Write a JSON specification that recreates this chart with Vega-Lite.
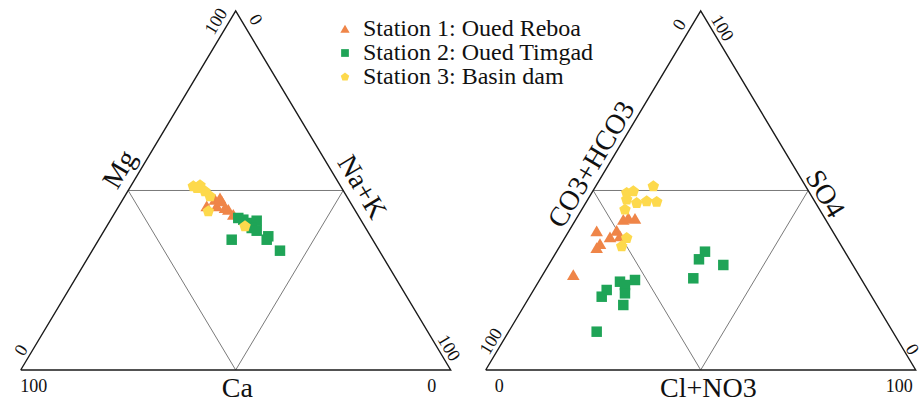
{
  "$schema": "https://vega.github.io/schema/vega-lite/v6.json",
  "width": 923,
  "height": 402,
  "padding": 0,
  "autosize": {"type": "none"},
  "background": "white",
  "config": {
    "view": {"stroke": null},
    "axis": {"disable": true}
  },
  "datasets": {
    "pts": [
      {"station": "Station 1: Oued Reboa", "x": 43.26, "y": 39.49},
      {"station": "Station 1: Oued Reboa", "x": 45.19, "y": 41.08},
      {"station": "Station 1: Oued Reboa", "x": 45.58, "y": 39.49},
      {"station": "Station 1: Oued Reboa", "x": 46.74, "y": 40.69},
      {"station": "Station 1: Oued Reboa", "x": 46.35, "y": 41.42},
      {"station": "Station 1: Oued Reboa", "x": 47.51, "y": 39.08},
      {"station": "Station 1: Oued Reboa", "x": 48.28, "y": 38.67},
      {"station": "Station 1: Oued Reboa", "x": 49.44, "y": 37.46},
      {"station": "Station 1: Oued Reboa", "x": 140.14, "y": 36.26},
      {"station": "Station 1: Oued Reboa", "x": 141.3, "y": 36.67},
      {"station": "Station 1: Oued Reboa", "x": 142.86, "y": 36.5},
      {"station": "Station 1: Oued Reboa", "x": 133.95, "y": 33.46},
      {"station": "Station 1: Oued Reboa", "x": 138.6, "y": 33.6},
      {"station": "Station 1: Oued Reboa", "x": 137.05, "y": 32.01},
      {"station": "Station 1: Oued Reboa", "x": 139.37, "y": 32.25},
      {"station": "Station 1: Oued Reboa", "x": 134.72, "y": 30.39},
      {"station": "Station 1: Oued Reboa", "x": 133.95, "y": 29.43},
      {"station": "Station 1: Oued Reboa", "x": 128.51, "y": 22.92},
      {"station": "Station 2: Oued Timgad", "x": 50.6, "y": 36.67},
      {"station": "Station 2: Oued Timgad", "x": 51.77, "y": 36.26},
      {"station": "Station 2: Oued Timgad", "x": 52.93, "y": 35.46},
      {"station": "Station 2: Oued Timgad", "x": 54.88, "y": 36.01},
      {"station": "Station 2: Oued Timgad", "x": 53.72, "y": 34.25},
      {"station": "Station 2: Oued Timgad", "x": 54.88, "y": 33.6},
      {"station": "Station 2: Oued Timgad", "x": 57.58, "y": 32.25},
      {"station": "Station 2: Oued Timgad", "x": 57.21, "y": 31.43},
      {"station": "Station 2: Oued Timgad", "x": 49.07, "y": 31.43},
      {"station": "Station 2: Oued Timgad", "x": 60.3, "y": 28.78},
      {"station": "Station 2: Oued Timgad", "x": 139.37, "y": 21.3},
      {"station": "Station 2: Oued Timgad", "x": 140.53, "y": 20.5},
      {"station": "Station 2: Oued Timgad", "x": 142.86, "y": 21.71},
      {"station": "Station 2: Oued Timgad", "x": 136.28, "y": 19.3},
      {"station": "Station 2: Oued Timgad", "x": 135.12, "y": 17.68},
      {"station": "Station 2: Oued Timgad", "x": 140.53, "y": 18.5},
      {"station": "Station 2: Oued Timgad", "x": 140.14, "y": 15.68},
      {"station": "Station 2: Oued Timgad", "x": 133.95, "y": 9.24},
      {"station": "Station 2: Oued Timgad", "x": 159.14, "y": 28.54},
      {"station": "Station 2: Oued Timgad", "x": 157.74, "y": 26.7},
      {"station": "Station 2: Oued Timgad", "x": 163.4, "y": 25.33},
      {"station": "Station 2: Oued Timgad", "x": 156.42, "y": 22.12},
      {"station": "Station 3: Basin dam", "x": 40.14, "y": 44.31},
      {"station": "Station 3: Basin dam", "x": 41.7, "y": 44.55},
      {"station": "Station 3: Basin dam", "x": 41.02, "y": 43.9},
      {"station": "Station 3: Basin dam", "x": 42.86, "y": 43.11},
      {"station": "Station 3: Basin dam", "x": 44.02, "y": 41.9},
      {"station": "Station 3: Basin dam", "x": 43.63, "y": 38.28},
      {"station": "Station 3: Basin dam", "x": 52.16, "y": 34.66},
      {"station": "Station 3: Basin dam", "x": 140.93, "y": 42.7},
      {"station": "Station 3: Basin dam", "x": 142.47, "y": 43.11},
      {"station": "Station 3: Basin dam", "x": 147.12, "y": 44.31},
      {"station": "Station 3: Basin dam", "x": 140.93, "y": 41.08},
      {"station": "Station 3: Basin dam", "x": 143.26, "y": 40.28},
      {"station": "Station 3: Basin dam", "x": 145.58, "y": 40.69},
      {"station": "Station 3: Basin dam", "x": 147.91, "y": 40.53},
      {"station": "Station 3: Basin dam", "x": 140.53, "y": 38.67},
      {"station": "Station 3: Basin dam", "x": 140.93, "y": 31.84},
      {"station": "Station 3: Basin dam", "x": 139.77, "y": 29.84}
    ],
    "lines": [
      {"kind": "outer", "shape": "L", "ord": 1, "x": 0, "y": 0},
      {"kind": "outer", "shape": "L", "ord": 2, "x": 100, "y": 0},
      {"kind": "outer", "shape": "L", "ord": 3, "x": 50, "y": 86.6},
      {"kind": "outer", "shape": "L", "ord": 4, "x": 0, "y": 0},
      {"kind": "inner", "shape": "Li", "ord": 1, "x": 25, "y": 43.3},
      {"kind": "inner", "shape": "Li", "ord": 2, "x": 75, "y": 43.3},
      {"kind": "inner", "shape": "Li", "ord": 3, "x": 50, "y": 0},
      {"kind": "inner", "shape": "Li", "ord": 4, "x": 25, "y": 43.3},
      {"kind": "outer", "shape": "R", "ord": 1, "x": 108.14, "y": 0},
      {"kind": "outer", "shape": "R", "ord": 2, "x": 208.14, "y": 0},
      {"kind": "outer", "shape": "R", "ord": 3, "x": 158.14, "y": 86.6},
      {"kind": "outer", "shape": "R", "ord": 4, "x": 108.14, "y": 0},
      {"kind": "inner", "shape": "Ri", "ord": 1, "x": 133.14, "y": 43.3},
      {"kind": "inner", "shape": "Ri", "ord": 2, "x": 183.14, "y": 43.3},
      {"kind": "inner", "shape": "Ri", "ord": 3, "x": 158.14, "y": 0},
      {"kind": "inner", "shape": "Ri", "ord": 4, "x": 133.14, "y": 43.3}
    ],
    "labels": [
      {"kind": "axis", "rot": "up", "text": "Mg", "x": 23.2, "y": 48.3},
      {"kind": "axis", "rot": "down", "text": "Na+K", "x": 79.2, "y": 44.0},
      {"kind": "axis", "rot": "none", "text": "Ca", "x": 50.37, "y": -4.5},
      {"kind": "tick", "rot": "none", "text": "100", "x": 3.02, "y": -4.03},
      {"kind": "tick", "rot": "none", "text": "0", "x": 95.58, "y": -4.03},
      {"kind": "tick", "rot": "up", "text": "100", "x": 45.58, "y": 84.02},
      {"kind": "tick", "rot": "down", "text": "0", "x": 54.49, "y": 84.43},
      {"kind": "tick", "rot": "up", "text": "0", "x": 0.23, "y": 4.66},
      {"kind": "tick", "rot": "down", "text": "100", "x": 99.44, "y": 5.23},
      {"kind": "axis", "rot": "up", "text": "CO3+HCO3", "x": 132.9, "y": 49.5},
      {"kind": "axis", "rot": "down", "text": "SO4", "x": 186.9, "y": 42.4},
      {"kind": "axis", "rot": "none", "text": "Cl+NO3", "x": 159.91, "y": -4.6},
      {"kind": "tick", "rot": "none", "text": "0", "x": 111.3, "y": -4.17},
      {"kind": "tick", "rot": "none", "text": "100", "x": 204.3, "y": -4.17},
      {"kind": "tick", "rot": "up", "text": "0", "x": 153.33, "y": 83.22},
      {"kind": "tick", "rot": "down", "text": "100", "x": 163.02, "y": 82.43},
      {"kind": "tick", "rot": "up", "text": "100", "x": 109.53, "y": 6.83},
      {"kind": "tick", "rot": "down", "text": "0", "x": 207.2, "y": 4.9}
    ]
  },
  "encoding": {
    "x": {"field": "x", "type": "quantitative", "scale": {"domain": [-4.814, 209.84], "nice": false, "zero": false}, "axis": null},
    "y": {"field": "y", "type": "quantitative", "scale": {"domain": [-7.72, 89.25], "nice": false, "zero": false}, "axis": null}
  },
  "layer": [
    {
      "data": {"name": "lines"},
      "transform": [{"filter": "datum.kind === 'inner'"}],
      "mark": {"type": "line", "stroke": "#7a7a7a", "strokeWidth": 1},
      "encoding": {"detail": {"field": "shape"}, "order": {"field": "ord", "type": "quantitative"}}
    },
    {
      "data": {"name": "lines"},
      "transform": [{"filter": "datum.kind === 'outer'"}],
      "mark": {"type": "line", "stroke": "#1a1a1a", "strokeWidth": 1.4},
      "encoding": {"detail": {"field": "shape"}, "order": {"field": "ord", "type": "quantitative"}}
    },
    {
      "data": {"name": "pts"},
      "mark": {"type": "point", "filled": true, "opacity": 1, "size": 110},
      "encoding": {
        "color": {
          "field": "station", "type": "nominal",
          "scale": {"domain": ["Station 1: Oued Reboa", "Station 2: Oued Timgad", "Station 3: Basin dam"], "range": ["#EF8548", "#1FA457", "#FDD94C"]},
          "legend": {
            "title": null, "orient": "none", "legendX": 333, "legendY": 17,
            "labelFont": "Liberation Serif", "labelFontSize": 24, "labelColor": "#111", "labelLimit": 600,
            "symbolSize": 60, "rowPadding": -2, "labelOffset": 6, "padding": 0
          }
        },
        "shape": {
          "field": "station", "type": "nominal",
          "scale": {"domain": ["Station 1: Oued Reboa", "Station 2: Oued Timgad", "Station 3: Basin dam"], "range": ["M0,-1.1L1.2,0.95L-1.2,0.95Z", "square", "M0,-1.15L1.094,-0.355L0.676,0.93L-0.676,0.93L-1.094,-0.355Z"]},
          "legend": {
            "title": null, "orient": "none", "legendX": 333, "legendY": 17,
            "labelFont": "Liberation Serif", "labelFontSize": 24, "labelColor": "#111", "labelLimit": 600,
            "symbolSize": 60, "rowPadding": -2, "labelOffset": 6, "padding": 0
          }
        }
      }
    },
    {
      "data": {"name": "labels"},
      "transform": [{"filter": "datum.kind === 'axis' && datum.rot === 'none'"}],
      "mark": {"type": "text", "font": "Liberation Serif", "fontSize": 28, "align": "center", "baseline": "middle", "color": "#111"},
      "encoding": {"text": {"field": "text"}}
    },
    {
      "data": {"name": "labels"},
      "transform": [{"filter": "datum.kind === 'axis' && datum.rot === 'up'"}],
      "mark": {"type": "text", "font": "Liberation Serif", "fontSize": 28, "align": "center", "baseline": "middle", "angle": 301, "color": "#111"},
      "encoding": {"text": {"field": "text"}}
    },
    {
      "data": {"name": "labels"},
      "transform": [{"filter": "datum.kind === 'axis' && datum.rot === 'down'"}],
      "mark": {"type": "text", "font": "Liberation Serif", "fontSize": 28, "align": "center", "baseline": "middle", "angle": 59, "color": "#111"},
      "encoding": {"text": {"field": "text"}}
    },
    {
      "data": {"name": "labels"},
      "transform": [{"filter": "datum.kind === 'tick' && datum.rot === 'none'"}],
      "mark": {"type": "text", "font": "Liberation Serif", "fontSize": 18, "align": "center", "baseline": "middle", "color": "#111"},
      "encoding": {"text": {"field": "text"}}
    },
    {
      "data": {"name": "labels"},
      "transform": [{"filter": "datum.kind === 'tick' && datum.rot === 'up'"}],
      "mark": {"type": "text", "font": "Liberation Serif", "fontSize": 18, "align": "center", "baseline": "middle", "angle": 301, "color": "#111"},
      "encoding": {"text": {"field": "text"}}
    },
    {
      "data": {"name": "labels"},
      "transform": [{"filter": "datum.kind === 'tick' && datum.rot === 'down'"}],
      "mark": {"type": "text", "font": "Liberation Serif", "fontSize": 18, "align": "center", "baseline": "middle", "angle": 59, "color": "#111"},
      "encoding": {"text": {"field": "text"}}
    }
  ]
}
